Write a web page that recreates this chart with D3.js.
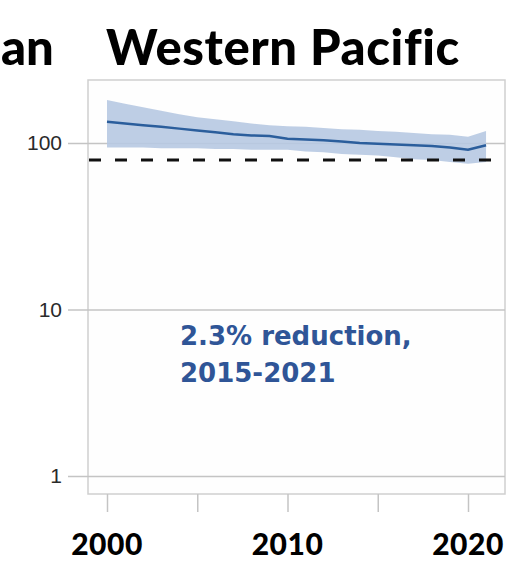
<!DOCTYPE html>
<html>
<head>
<meta charset="utf-8">
<script src="https://cdn.jsdelivr.net/npm/d3@7"></script>
<style>
  html, body { margin: 0; padding: 0; background: #ffffff; }
  svg { display: block; }
</style>
</head>
<body>
<svg id="chart" width="512" height="577"></svg>
<script>
// Yearly estimates, Western Pacific (log scale)
const years = [2000, 2001, 2002, 2003, 2004, 2005, 2006, 2007, 2008, 2009, 2010,
               2011, 2012, 2013, 2014, 2015, 2016, 2017, 2018, 2019, 2020, 2021];
const central = [134, 131, 128, 125, 122, 119, 116, 113, 111, 110, 106,
                 105, 104, 102, 100, 99, 98, 97, 96, 94, 91, 97];
const upper = [181, 172, 164, 156, 149, 143, 139, 135, 131, 128, 126,
               125, 123, 121, 120, 118, 117, 115, 113, 112, 109, 118];
const lower = [94, 94, 94, 93, 93, 93, 92, 92, 91, 91, 91,
               89, 88, 86, 85, 84, 82, 80, 79, 77, 75, 77];
const target = 79;
const yTicks = [1, 10, 100];
const xTicks = [2000, 2005, 2010, 2015, 2020];
const xLabels = [2000, 2010, 2020];
const title = "Western Pacific";
const neighbourTitleTail = "an";
const note = ["2.3% reduction,", "2015-2021"];

const svg = d3.select("#chart");
const frame = { left: 88, right: 505, top: 80, bottom: 494 };

const x = d3.scaleLinear().domain([2000, 2020]).range([107, 468]);
const y = d3.scaleLog().domain([1, 100]).range([476, 143]);

// plot frame
svg.append("rect")
  .attr("x", frame.left).attr("y", frame.top)
  .attr("width", frame.right - frame.left).attr("height", frame.bottom - frame.top)
  .attr("fill", "#fefefe").attr("stroke", "#cfcfcf").attr("stroke-width", 1.5);

// horizontal gridlines with outside ticks
const yAxis = d3.axisLeft(y).tickValues(yTicks).tickFormat(d3.format("d"))
  .tickSize(frame.right - 68).tickPadding(6);
const gy = svg.append("g").attr("transform", `translate(${frame.right},0)`).call(yAxis);
gy.select(".domain").remove();
gy.selectAll(".tick line").attr("stroke", "#c4c4c4").attr("stroke-width", 1.5);
gy.selectAll(".tick text")
  .attr("x", 62 - frame.right)
  .attr("font-family", "Liberation Sans, Arial, sans-serif").attr("font-size", 21)
  .attr("fill", "#2a2a2a");

// x ticks below the frame
const xAxis = d3.axisBottom(x).tickValues(xTicks).tickSize(18).tickFormat("");
const gx = svg.append("g").attr("transform", `translate(0,${frame.bottom})`).call(xAxis);
gx.select(".domain").remove();
gx.selectAll(".tick line").attr("stroke", "#c4c4c4").attr("stroke-width", 1.5);

// x labels
svg.append("g").selectAll("text").data(xLabels).join("text")
  .attr("x", d => x(d)).attr("y", 555)
  .attr("text-anchor", "middle")
  .attr("font-family", "Lato, sans-serif").attr("font-weight", 900).attr("font-size", 30)
  .attr("letter-spacing", 0.5)
  .attr("fill", "#000").text(d => d);

// uncertainty band
const area = d3.area()
  .x((d, i) => x(years[i]))
  .y0((d, i) => y(lower[i]))
  .y1((d, i) => y(upper[i]));
svg.append("path").datum(years).attr("d", area)
  .attr("fill", "#b7c9e2").attr("opacity", 0.9);

// central estimate
const line = d3.line().x((d, i) => x(years[i])).y((d, i) => y(central[i]));
svg.append("path").datum(years).attr("d", line)
  .attr("fill", "none").attr("stroke", "#2b5e9c").attr("stroke-width", 2.5);

// target line
svg.append("line")
  .attr("x1", 89).attr("x2", frame.right)
  .attr("y1", y(target)).attr("y2", y(target))
  .attr("stroke", "#111").attr("stroke-width", 3)
  .attr("stroke-dasharray", "12,14");

// annotation
svg.append("text")
  .attr("font-family", "DejaVu Sans, sans-serif").attr("font-weight", "bold").attr("font-size", 26)
  .attr("fill", "#2f5597")
  .selectAll("tspan").data(note).join("tspan")
  .attr("x", 180).attr("y", (d, i) => 345 + i * 37).text(d => d);

// titles
svg.append("text")
  .attr("x", 283).attr("y", 65).attr("text-anchor", "middle")
  .attr("font-family", "Lato, sans-serif").attr("font-weight", 900).attr("font-size", 49)
  .attr("letter-spacing", 0.6)
  .attr("fill", "#000").text(title);
svg.append("text")
  .attr("x", 1).attr("y", 65)
  .attr("font-family", "Lato, sans-serif").attr("font-weight", 900).attr("font-size", 49)
  .attr("fill", "#000").text(neighbourTitleTail);
</script>
</body>
</html>
